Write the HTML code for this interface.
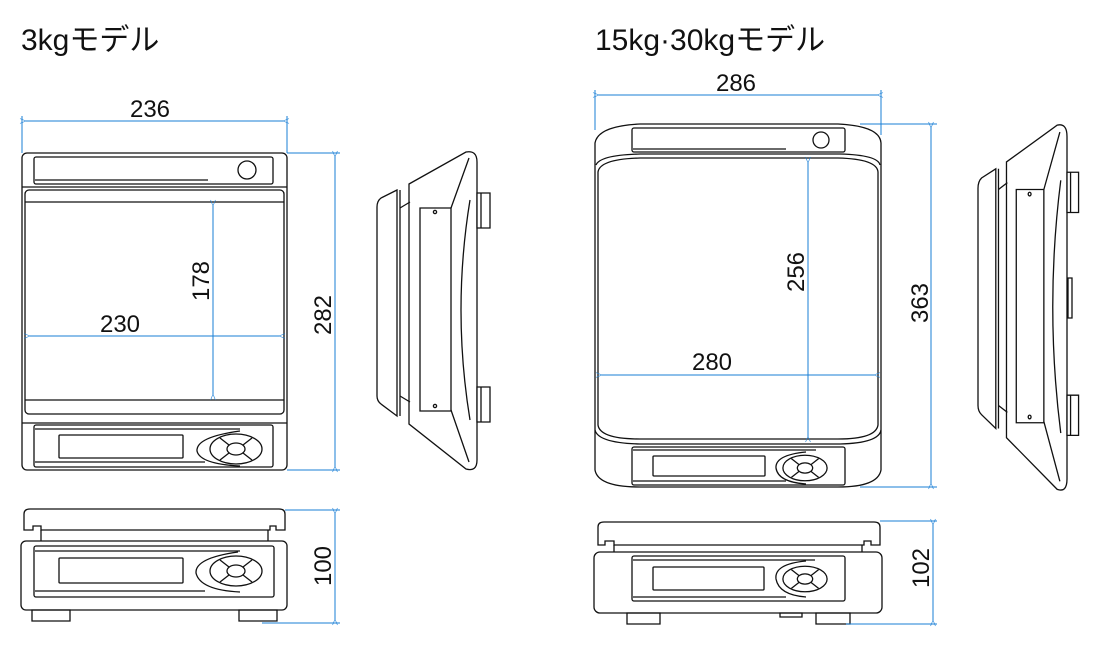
<!DOCTYPE html>
<html><head><meta charset="utf-8"><style>
html,body{margin:0;padding:0;background:#fff;}
svg{display:block}
text{font-family:"Liberation Sans","Noto Sans CJK JP",sans-serif;fill:#111}
.k{fill:none;stroke:#111;stroke-width:1.3;vector-effect:non-scaling-stroke}
.kw{fill:#fff;stroke:#111;stroke-width:1.3;vector-effect:non-scaling-stroke}
.b{fill:none;stroke:#1a7fd6;stroke-width:1}
</style></head><body>
<svg width="1100" height="650" viewBox="0 0 1100 650">
<defs>
<marker id="a" viewBox="0 0 10 10" refX="0" refY="5" markerWidth="10" markerHeight="6" orient="auto-start-reverse"><path d="M10,1 L0,5 L10,9" fill="none" stroke="#1a7fd6" stroke-width="1"/></marker>
<g id="side">
 <path class="k" d="M397,190 L381,198 Q377,201 377,207 L377,396 Q377,401 381,404 L397,416 Z"/>
 <line class="k" x1="400" y1="190" x2="400" y2="416"/>
 <path class="k" d="M400,208 L410,202 M400,396 L410,402"/>
 <path class="k" d="M409,184 L466,152 Q477,150 477,162 L477,460 Q477,472 466,469 L409,424 Z"/>
 <path class="k" d="M451,208 L469,158 M451,410 L469,462"/>
 <rect class="k" x="420" y="208" width="31" height="203"/>
 <circle class="k" cx="435" cy="212" r="1.6"/><circle class="k" cx="435" cy="406" r="1.6"/>
 <path class="k" d="M470,200 Q452,310 470,420"/>
 <rect class="kw" x="477" y="193" width="13" height="35"/><line class="k" x1="481" y1="193" x2="481" y2="228"/>
 <rect class="kw" x="477" y="387" width="13" height="35"/><line class="k" x1="481" y1="387" x2="481" y2="422"/>
</g>
<g id="keys">
 <ellipse class="k" cx="0" cy="0" rx="26" ry="15"/>
 <ellipse class="k" cx="0" cy="0" rx="9" ry="6"/>
 <path class="k" d="M-7,-4 L-16,-11 M7,-4 L16,-11 M-7,4 L-16,11 M7,4 L16,11"/>
</g>
</defs>

<text x="21" y="50" font-size="30">3kgモデル</text>
<text x="595" y="50" font-size="30">15kg·30kgモデル</text>

<!-- LEFT TOP VIEW -->
<rect class="k" x="22" y="153" width="265" height="317" rx="5" stroke-width="2"/>
<rect class="k" x="34" y="157" width="239" height="27" rx="2"/>
<line class="k" x1="35" y1="180" x2="208" y2="180" stroke-width="2"/>
<circle class="k" cx="247" cy="170" r="9"/>
<line class="k" x1="22" y1="187" x2="287" y2="187"/>
<rect class="k" x="25" y="190" width="259" height="224" rx="4"/>
<line class="k" x1="25" y1="202" x2="284" y2="202"/>
<line class="k" x1="25" y1="400" x2="284" y2="400"/>
<line class="k" x1="22" y1="423" x2="287" y2="423"/>
<rect class="k" x="34" y="425" width="239" height="42" rx="2"/>
<line class="k" x1="35" y1="429" x2="240" y2="429"/>
<line class="k" x1="35" y1="462" x2="205" y2="462" stroke-width="2"/>
<rect class="k" x="59" y="435" width="124" height="23" rx="1"/>
<path class="k" d="M240,431 Q196,437 197,451 Q200,464 240,466"/>
<use href="#keys" x="236" y="449"/>
<!-- dims left -->
<line class="b" x1="22" y1="116" x2="22" y2="153"/>
<line class="b" x1="287" y1="116" x2="287" y2="153"/>
<line class="b" x1="26" y1="121" x2="283" y2="121" marker-start="url(#a)" marker-end="url(#a)"/>
<text x="150" y="117" font-size="24" text-anchor="middle">236</text>
<line class="b" x1="287" y1="153" x2="340" y2="153"/>
<line class="b" x1="287" y1="470" x2="340" y2="470"/>
<line class="b" x1="335" y1="157" x2="335" y2="466" marker-start="url(#a)" marker-end="url(#a)"/>
<text transform="translate(331,315) rotate(-90)" font-size="24" text-anchor="middle">282</text>
<line class="b" x1="213" y1="206" x2="213" y2="394" marker-start="url(#a)" marker-end="url(#a)"/>
<text transform="translate(209,281) rotate(-90)" font-size="24" text-anchor="middle">178</text>
<line class="b" x1="30" y1="336" x2="279" y2="336" marker-start="url(#a)" marker-end="url(#a)"/>
<text x="120" y="332" font-size="24" text-anchor="middle">230</text>

<!-- LEFT SIDE VIEW -->
<use href="#side"/>

<!-- LEFT FRONT VIEW -->
<path class="k" d="M24,530 L24,514 Q24,509 30,509 L279,509 Q285,509 285,514 L285,530 L276,530 L276,526 L270,526 L270,530 L41,530 L41,526 L33,526 L33,530 Z"/>
<path class="k" d="M41,530 L41,541 M268,530 L268,541"/>
<rect class="k" x="21" y="541" width="266" height="69" rx="5"/>
<rect class="k" x="34" y="546" width="240" height="51" rx="2"/>
<line class="k" x1="35" y1="551" x2="240" y2="551"/>
<line class="k" x1="35" y1="591" x2="205" y2="591" stroke-width="1.6"/>
<rect class="k" x="59" y="558" width="124" height="25" rx="1"/>
<path class="k" d="M238,552 Q195,558 196,573 Q200,590 240,592"/>
<use href="#keys" x="236" y="571"/>
<rect class="k" x="32" y="610" width="38" height="11"/>
<rect class="k" x="239" y="610" width="38" height="11"/>
<line class="b" x1="285" y1="510" x2="340" y2="510"/>
<line class="b" x1="262" y1="623" x2="340" y2="623"/>
<line class="b" x1="335" y1="514" x2="335" y2="619" marker-start="url(#a)" marker-end="url(#a)"/>
<text transform="translate(331,566) rotate(-90)" font-size="24" text-anchor="middle">100</text>

<!-- RIGHT TOP VIEW -->
<path class="k" stroke-width="2" d="M595,143 Q598,126 640,124 L838,124 Q880,126 881,143 L881,470 Q878,487 838,487 L640,487 Q598,487 595,470 Z"/>
<rect class="k" x="632" y="128" width="213" height="24" rx="2"/>
<line class="k" x1="633" y1="149" x2="786" y2="149" stroke-width="2"/>
<circle class="k" cx="821" cy="140" r="8"/>
<path class="k" d="M596,165 Q600,155 640,154 L840,154 Q878,155 880,165"/>
<path class="k" d="M598,172 Q600,159 640,158 L838,158 Q877,159 878,172 L878,425 Q876,439 838,439 L640,439 Q600,439 598,425 Z"/>
<path class="k" d="M595,430 Q598,443 640,444 L840,444 Q879,443 881,430"/>
<rect class="k" x="632" y="447" width="213" height="38" rx="2"/>
<line class="k" x1="633" y1="450" x2="816" y2="450" stroke-width="1.6"/>
<line class="k" x1="633" y1="481" x2="786" y2="481" stroke-width="1.6"/>
<rect class="k" x="653" y="456" width="112" height="20" rx="1"/>
<path class="k" d="M806,452 Q775,455 776,468 Q778,482 806,484"/>
<g transform="translate(805,468) scale(0.85)"><use href="#keys"/></g>
<line class="b" x1="595" y1="90" x2="595" y2="130"/>
<line class="b" x1="881" y1="90" x2="881" y2="135"/>
<line class="b" x1="599" y1="95" x2="877" y2="95" marker-start="url(#a)" marker-end="url(#a)"/>
<text x="736" y="91" font-size="24" text-anchor="middle">286</text>
<line class="b" x1="860" y1="124" x2="937" y2="124"/>
<line class="b" x1="860" y1="487" x2="937" y2="487"/>
<line class="b" x1="931" y1="128" x2="931" y2="483" marker-start="url(#a)" marker-end="url(#a)"/>
<text transform="translate(928,303) rotate(-90)" font-size="24" text-anchor="middle">363</text>
<line class="b" x1="808" y1="163" x2="808" y2="436" marker-start="url(#a)" marker-end="url(#a)"/>
<text transform="translate(804,272) rotate(-90)" font-size="24" text-anchor="middle">256</text>
<line class="b" x1="602" y1="375" x2="874" y2="375" marker-start="url(#a)" marker-end="url(#a)"/>
<text x="712" y="370" font-size="24" text-anchor="middle">280</text>

<!-- RIGHT SIDE VIEW -->
<g transform="translate(978,124) scale(0.89,1.149) translate(-377,-151)"><use href="#side"/></g>
<rect class="kw" x="1068" y="278" width="4" height="40"/>

<!-- RIGHT FRONT VIEW -->
<path class="k" d="M598,545 L598,527 Q598,522 604,522 L874,522 Q880,522 880,527 L880,545 L871,545 L871,541 L864,541 L864,545 L614,545 L614,541 L605,541 L605,545 Z"/>
<path class="k" d="M614,545 L614,552 M862,545 L862,552"/>
<rect class="k" x="594" y="552" width="288" height="61" rx="6"/>
<rect class="k" x="632" y="556" width="213" height="45" rx="2"/>
<line class="k" x1="633" y1="560" x2="815" y2="560"/>
<line class="k" x1="633" y1="597" x2="786" y2="597" stroke-width="1.6"/>
<rect class="k" x="653" y="567" width="111" height="23" rx="1"/>
<path class="k" d="M806,561 Q774,564 776,579 Q779,595 806,597"/>
<g transform="translate(805,579) scale(0.85)"><use href="#keys"/></g>
<rect class="k" x="627" y="613" width="33" height="11"/>
<rect class="k" x="780" y="613" width="22" height="4"/>
<rect class="k" x="816" y="613" width="34" height="11"/>
<line class="b" x1="880" y1="521" x2="937" y2="521"/>
<line class="b" x1="846" y1="624" x2="937" y2="624"/>
<line class="b" x1="933" y1="525" x2="933" y2="620" marker-start="url(#a)" marker-end="url(#a)"/>
<text transform="translate(929,568) rotate(-90)" font-size="24" text-anchor="middle">102</text>
</svg>
</body></html>
